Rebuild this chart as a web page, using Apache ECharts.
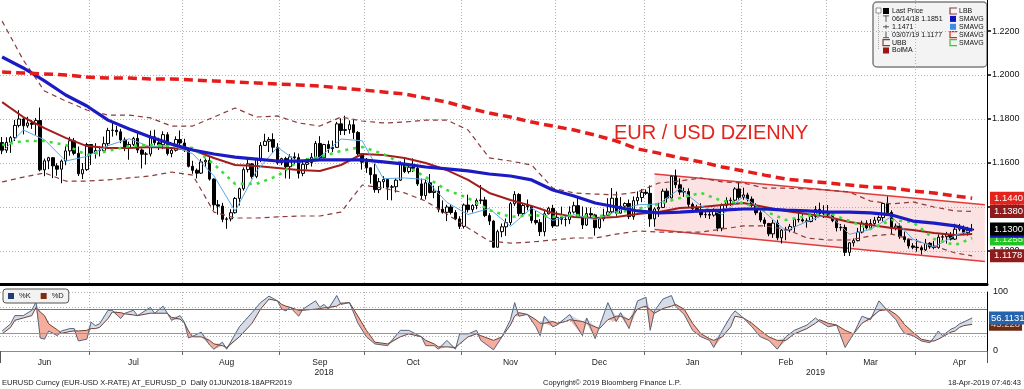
<!DOCTYPE html>
<html><head><meta charset="utf-8">
<script src="https://cdn.jsdelivr.net/npm/echarts@6/dist/echarts.min.js"></script>
<style>html,body{margin:0;padding:0;background:#fff}#c{width:1024px;height:389px}</style>
</head><body><div id="c"></div>
<script>
// ---------- categories: trading days (weekdays) + 3 empty pad days ----------
const firstDay = '2018-06-01', lastDay = '2019-04-18', padDays = 3;
const categories = [];
(function(){
  let d = new Date(firstDay + 'T00:00:00Z'), pad = 0, passed = false;
  while (true) {
    const wd = d.getUTCDay();
    if (wd !== 0 && wd !== 6) {
      const s = d.toISOString().slice(0,10);
      if (passed) { categories.push(s); pad++; if (pad >= padDays) break; }
      else { categories.push(s); if (s === lastDay) passed = true; }
    }
    d.setUTCDate(d.getUTCDate()+1);
  }
})();
const nDays = categories.indexOf(lastDay) + 1;

// ---------- daily candles [open, close, low, high] ----------
const ohlc = [
// Jun 2018
[1.1693,1.1658,1.1640,1.1718],[1.1658,1.1694,1.1646,1.1717],[1.1694,1.1715,1.1646,1.1722],[1.1715,1.1771,1.1700,1.1796],[1.1771,1.1800,1.1762,1.1840],
[1.1800,1.1769,1.1730,1.1805],[1.1769,1.1782,1.1760,1.1810],[1.1782,1.1776,1.1755,1.1796],[1.1776,1.1793,1.1728,1.1805],[1.1793,1.1569,1.1562,1.1852],
[1.1569,1.1610,1.1540,1.1620],[1.1610,1.1624,1.1572,1.1628],[1.1624,1.1587,1.1531,1.1627],[1.1587,1.1572,1.1542,1.1599],[1.1572,1.1609,1.1508,1.1616],
[1.1609,1.1655,1.1590,1.1676],[1.1655,1.1701,1.1633,1.1719],[1.1701,1.1644,1.1635,1.1714],[1.1644,1.1551,1.1541,1.1675],[1.1551,1.1570,1.1527,1.1600],
[1.1570,1.1684,1.1564,1.1692],
// Jul
[1.1684,1.1644,1.1591,1.1686],[1.1644,1.1657,1.1620,1.1690],[1.1657,1.1656,1.1630,1.1675],[1.1656,1.1688,1.1645,1.1720],[1.1688,1.1748,1.1676,1.1760],
[1.1748,1.1749,1.1720,1.1791],[1.1749,1.1742,1.1725,1.1768],[1.1742,1.1705,1.1690,1.1755],[1.1705,1.1669,1.1654,1.1716],[1.1669,1.1684,1.1615,1.1697],
[1.1684,1.1712,1.1677,1.1719],[1.1712,1.1659,1.1645,1.1745],[1.1659,1.1640,1.1575,1.1666],[1.1640,1.1641,1.1593,1.1650],[1.1641,1.1719,1.1630,1.1747],
[1.1719,1.1692,1.1680,1.1751],[1.1692,1.1683,1.1659,1.1715],[1.1683,1.1729,1.1663,1.1744],[1.1729,1.1643,1.1634,1.1740],[1.1643,1.1658,1.1626,1.1668],
[1.1658,1.1707,1.1652,1.1721],[1.1707,1.1691,1.1675,1.1748],
// Aug
[1.1691,1.1659,1.1650,1.1710],[1.1659,1.1585,1.1580,1.1670],[1.1585,1.1567,1.1551,1.1610],[1.1567,1.1554,1.1530,1.1575],[1.1554,1.1605,1.1550,1.1619],
[1.1605,1.1612,1.1584,1.1620],[1.1612,1.1527,1.1520,1.1627],[1.1527,1.1410,1.1387,1.1530],[1.1410,1.1404,1.1365,1.1432],[1.1404,1.1344,1.1331,1.1419],
[1.1344,1.1346,1.1301,1.1354],[1.1346,1.1374,1.1335,1.1390],[1.1374,1.1439,1.1370,1.1445],[1.1439,1.1483,1.1407,1.1488],[1.1483,1.1570,1.1475,1.1580],
[1.1570,1.1596,1.1557,1.1622],[1.1596,1.1539,1.1529,1.1600],[1.1539,1.1621,1.1531,1.1623],[1.1621,1.1680,1.1604,1.1695],[1.1680,1.1699,1.1680,1.1733],
[1.1699,1.1707,1.1650,1.1718],[1.1707,1.1672,1.1646,1.1735],[1.1672,1.1601,1.1592,1.1690],
// Sep
[1.1601,1.1620,1.1590,1.1624],[1.1620,1.1583,1.1530,1.1628],[1.1583,1.1628,1.1528,1.1640],[1.1628,1.1624,1.1594,1.1648],[1.1624,1.1553,1.1530,1.1643],
[1.1553,1.1594,1.1540,1.1612],[1.1594,1.1602,1.1571,1.1622],[1.1602,1.1626,1.1584,1.1645],[1.1626,1.1689,1.1620,1.1700],[1.1689,1.1624,1.1613,1.1722],
[1.1624,1.1684,1.1621,1.1687],[1.1684,1.1665,1.1646,1.1702],[1.1665,1.1671,1.1650,1.1702],[1.1671,1.1778,1.1668,1.1787],[1.1778,1.1748,1.1727,1.1803],
[1.1748,1.1752,1.1727,1.1815],[1.1752,1.1774,1.1733,1.1794],[1.1774,1.1739,1.1709,1.1796],[1.1739,1.1642,1.1633,1.1745],[1.1642,1.1604,1.1570,1.1642],
// Oct
[1.1604,1.1578,1.1555,1.1623],[1.1578,1.1547,1.1506,1.1580],[1.1547,1.1479,1.1465,1.1596],[1.1479,1.1515,1.1463,1.1532],[1.1515,1.1525,1.1486,1.1540],
[1.1525,1.1490,1.1432,1.1527],[1.1490,1.1492,1.1430,1.1500],[1.1492,1.1522,1.1466,1.1530],[1.1522,1.1595,1.1518,1.1609],[1.1595,1.1561,1.1554,1.1620],
[1.1561,1.1581,1.1552,1.1591],[1.1581,1.1576,1.1559,1.1621],[1.1576,1.1505,1.1496,1.1582],[1.1505,1.1452,1.1432,1.1529],[1.1452,1.1510,1.1434,1.1526],
[1.1510,1.1466,1.1462,1.1550],[1.1466,1.1472,1.1440,1.1497],[1.1472,1.1390,1.1376,1.1495],[1.1390,1.1376,1.1370,1.1430],[1.1376,1.1400,1.1336,1.1410],
[1.1400,1.1375,1.1366,1.1412],[1.1375,1.1346,1.1340,1.1386],[1.1346,1.1312,1.1300,1.1358],
// Nov
[1.1312,1.1409,1.1302,1.1416],[1.1409,1.1388,1.1375,1.1456],[1.1388,1.1407,1.1375,1.1412],[1.1407,1.1429,1.1390,1.1439],[1.1429,1.1432,1.1414,1.1500],
[1.1432,1.1361,1.1354,1.1446],[1.1361,1.1336,1.1318,1.1372],[1.1336,1.1217,1.1216,1.1340],[1.1217,1.1288,1.1216,1.1297],[1.1288,1.1310,1.1263,1.1325],
[1.1310,1.1329,1.1269,1.1348],[1.1329,1.1415,1.1318,1.1423],[1.1415,1.1457,1.1405,1.1472],[1.1457,1.1370,1.1358,1.1463],[1.1370,1.1407,1.1362,1.1416],
[1.1407,1.1402,1.1385,1.1434],[1.1402,1.1339,1.1326,1.1405],[1.1339,1.1329,1.1320,1.1382],[1.1329,1.1288,1.1268,1.1345],[1.1288,1.1369,1.1267,1.1387],
[1.1369,1.1394,1.1366,1.1401],[1.1394,1.1314,1.1305,1.1410],
// Dec
[1.1314,1.1353,1.1313,1.1380],[1.1353,1.1344,1.1321,1.1402],[1.1344,1.1343,1.1312,1.1360],[1.1343,1.1377,1.1322,1.1403],[1.1377,1.1406,1.1370,1.1424],
[1.1406,1.1353,1.1350,1.1443],[1.1353,1.1318,1.1300,1.1402],[1.1318,1.1370,1.1314,1.1398],[1.1370,1.1364,1.1345,1.1397],[1.1364,1.1306,1.1270,1.1369],
[1.1306,1.1346,1.1301,1.1353],[1.1346,1.1362,1.1335,1.1392],[1.1362,1.1378,1.1359,1.1440],[1.1378,1.1440,1.1372,1.1486],[1.1440,1.1372,1.1360,1.1470],
[1.1372,1.1404,1.1370,1.1445],[1.1404,1.1416,1.1400,1.1421],[1.1416,1.1356,1.1345,1.1434],[1.1356,1.1429,1.1342,1.1448],[1.1429,1.1443,1.1408,1.1471],
[1.1443,1.1467,1.1422,1.1482],
// Jan 2019
[1.1467,1.1462,1.1455,1.1480],[1.1462,1.1346,1.1310,1.1498],[1.1346,1.1391,1.1310,1.1398],[1.1391,1.1398,1.1355,1.1419],[1.1398,1.1472,1.1395,1.1483],
[1.1472,1.1441,1.1420,1.1485],[1.1441,1.1540,1.1440,1.1542],[1.1540,1.1501,1.1486,1.1570],[1.1501,1.1468,1.1455,1.1530],[1.1468,1.1470,1.1446,1.1488],
[1.1470,1.1412,1.1397,1.1485],[1.1412,1.1393,1.1380,1.1420],[1.1393,1.1387,1.1375,1.1410],[1.1387,1.1365,1.1352,1.1417],[1.1365,1.1366,1.1350,1.1384],
[1.1366,1.1363,1.1345,1.1380],[1.1363,1.1384,1.1356,1.1394],[1.1384,1.1304,1.1290,1.1390],[1.1304,1.1408,1.1290,1.1416],[1.1408,1.1429,1.1395,1.1444],
[1.1429,1.1431,1.1405,1.1443],[1.1431,1.1482,1.1410,1.1490],[1.1482,1.1444,1.1434,1.1514],
// Feb
[1.1444,1.1455,1.1433,1.1488],[1.1455,1.1436,1.1425,1.1465],[1.1436,1.1407,1.1398,1.1448],[1.1407,1.1374,1.1363,1.1417],[1.1374,1.1341,1.1331,1.1384],
[1.1341,1.1325,1.1310,1.1353],[1.1325,1.1278,1.1267,1.1328],[1.1278,1.1327,1.1260,1.1341],[1.1327,1.1260,1.1249,1.1342],[1.1260,1.1295,1.1234,1.1300],
[1.1295,1.1296,1.1249,1.1310],[1.1296,1.1311,1.1285,1.1323],[1.1311,1.1344,1.1287,1.1350],[1.1344,1.1342,1.1330,1.1372],[1.1342,1.1337,1.1330,1.1368],
[1.1337,1.1334,1.1306,1.1349],[1.1334,1.1357,1.1330,1.1368],[1.1357,1.1389,1.1340,1.1405],[1.1389,1.1370,1.1365,1.1420],[1.1370,1.1372,1.1350,1.1408],
// Mar
[1.1372,1.1364,1.1354,1.1409],[1.1364,1.1338,1.1331,1.1374],[1.1338,1.1306,1.1289,1.1343],[1.1306,1.1307,1.1292,1.1323],[1.1307,1.1194,1.1177,1.1320],
[1.1194,1.1237,1.1177,1.1240],[1.1237,1.1247,1.1220,1.1257],[1.1247,1.1286,1.1244,1.1305],[1.1286,1.1327,1.1280,1.1338],[1.1327,1.1305,1.1298,1.1340],
[1.1305,1.1325,1.1297,1.1345],[1.1325,1.1340,1.1319,1.1355],[1.1340,1.1352,1.1327,1.1361],[1.1352,1.1416,1.1334,1.1420],[1.1416,1.1375,1.1360,1.1448],
[1.1375,1.1304,1.1275,1.1385],[1.1304,1.1313,1.1294,1.1325],[1.1313,1.1265,1.1255,1.1325],[1.1265,1.1252,1.1239,1.1288],[1.1252,1.1223,1.1211,1.1257],
[1.1223,1.1217,1.1208,1.1236],
// Apr
[1.1217,1.1215,1.1197,1.1255],[1.1215,1.1205,1.1184,1.1225],[1.1205,1.1235,1.1200,1.1255],[1.1235,1.1219,1.1210,1.1240],[1.1219,1.1216,1.1208,1.1246],
[1.1216,1.1263,1.1210,1.1276],[1.1263,1.1265,1.1249,1.1277],[1.1265,1.1274,1.1234,1.1287],[1.1274,1.1254,1.1248,1.1286],[1.1254,1.1299,1.1250,1.1324],
[1.1299,1.1306,1.1290,1.1323],[1.1306,1.1283,1.1272,1.1316],[1.1283,1.1295,1.1270,1.1310],[1.1295,1.1300,1.1290,1.1323]
];

// ---------- indicator lines, read weekly (each Friday + last day) ----------
const lineDates = categories.filter((d,i) => i < nDays && (new Date(d+'T00:00:00Z').getUTCDay() === 5 || i === nDays-1));
const smaBlue = [1.2082,1.2032,1.1973,1.1909,1.1859,1.1795,1.1755,1.1718,1.1686,1.1659,1.1641,1.1627,1.1618,1.1609,1.1609,1.1614,1.1614,1.1614,1.1605,1.1595,1.1582,1.1573,1.1564,1.1550,1.1541,1.1523,1.1477,1.1450,1.1418,1.1400,1.1382,1.1373,1.1377,1.1382,1.1386,1.1391,1.1391,1.1386,1.1382,1.1377,1.1377,1.1373,1.1364,1.1336,1.1327,1.1314,1.1295];
const bolMA = [1.1877,1.1809,1.1759,1.1714,1.1677,1.1668,1.1668,1.1673,1.1668,1.1659,1.1623,1.1591,1.1586,1.1577,1.1568,1.1564,1.1591,1.1641,1.1636,1.1623,1.1600,1.1568,1.1523,1.1464,1.1432,1.1405,1.1373,1.1355,1.1350,1.1355,1.1368,1.1377,1.1395,1.1400,1.1409,1.1418,1.1400,1.1382,1.1368,1.1355,1.1332,1.1318,1.1305,1.1295,1.1282,1.1273,1.1277];
const sma200 = [1.2014,1.2009,1.2005,1.2000,1.1991,1.1986,1.1986,1.1982,1.1982,1.1977,1.1973,1.1968,1.1964,1.1959,1.1955,1.1950,1.1941,1.1932,1.1923,1.1914,1.1895,1.1877,1.1850,1.1827,1.1809,1.1786,1.1768,1.1750,1.1727,1.1700,1.1664,1.1645,1.1623,1.1605,1.1582,1.1564,1.1545,1.1527,1.1518,1.1509,1.1500,1.1491,1.1486,1.1473,1.1464,1.1450,1.1440];
const upperBB = [1.2245,1.2068,1.1927,1.1882,1.1841,1.1818,1.1818,1.1805,1.1768,1.1768,1.1809,1.1850,1.1809,1.1814,1.1782,1.1768,1.1809,1.1791,1.1782,1.1786,1.1795,1.1795,1.1750,1.1623,1.1609,1.1591,1.1486,1.1464,1.1459,1.1455,1.1468,1.1509,1.1518,1.1532,1.1514,1.1509,1.1486,1.1486,1.1482,1.1477,1.1468,1.1427,1.1414,1.1423,1.1400,1.1382,1.1380];
const lowerBB = [1.1514,1.1536,1.1555,1.1518,1.1518,1.1523,1.1532,1.1541,1.1559,1.1545,1.1377,1.1350,1.1350,1.1355,1.1359,1.1359,1.1377,1.1500,1.1486,1.1464,1.1427,1.1368,1.1305,1.1245,1.1236,1.1241,1.1250,1.1259,1.1259,1.1277,1.1291,1.1286,1.1286,1.1286,1.1300,1.1314,1.1314,1.1300,1.1259,1.1250,1.1250,1.1268,1.1277,1.1250,1.1223,1.1191,1.1178];
const smaGreen = [1.1682,1.1700,1.1700,1.1682,1.1636,1.1655,1.1677,1.1682,1.1677,1.1668,1.1595,1.1505,1.1505,1.1541,1.1609,1.1627,1.1655,1.1673,1.1641,1.1591,1.1536,1.1477,1.1441,1.1386,1.1355,1.1364,1.1355,1.1364,1.1355,1.1373,1.1391,1.1414,1.1441,1.1464,1.1427,1.1418,1.1382,1.1341,1.1359,1.1373,1.1336,1.1300,1.1341,1.1332,1.1255,1.1227,1.1259];
const smaLight = [1.1650,1.1750,1.1706,1.1609,1.1630,1.1679,1.1710,1.1674,1.1681,1.1642,1.1542,1.1381,1.1562,1.1672,1.1602,1.1627,1.1709,1.1701,1.1529,1.1532,1.1525,1.1421,1.1366,1.1393,1.1312,1.1395,1.1339,1.1365,1.1342,1.1380,1.1410,1.1414,1.1484,1.1405,1.1365,1.1448,1.1377,1.1291,1.1334,1.1370,1.1276,1.1298,1.1357,1.1254,1.1218,1.1271,1.1297];

// ---------- trend channel ----------
const channelDates = ['2019-01-03','2019-04-23'];
const channelTop = [1.1550, 1.1410];
const channelBottom = [1.1298, 1.1152];

// ---------- stochastic ----------
const stochDates = [
'2018-06-01','2018-06-05','2018-06-06','2018-06-08','2018-06-12','2018-06-13','2018-06-14','2018-06-15','2018-06-18','2018-06-20','2018-06-21','2018-06-25','2018-06-26','2018-06-27','2018-06-29',
'2018-07-02','2018-07-03','2018-07-04','2018-07-06','2018-07-09','2018-07-11','2018-07-12','2018-07-16','2018-07-17','2018-07-20','2018-07-23','2018-07-25','2018-07-26','2018-07-27','2018-07-31',
'2018-08-01','2018-08-02','2018-08-03','2018-08-07','2018-08-09','2018-08-10','2018-08-14','2018-08-15','2018-08-20','2018-08-23','2018-08-27','2018-08-29','2018-08-31',
'2018-09-03','2018-09-04','2018-09-05','2018-09-07','2018-09-10','2018-09-13','2018-09-14','2018-09-17','2018-09-18','2018-09-20','2018-09-21','2018-09-25','2018-09-27',
'2018-10-01','2018-10-03','2018-10-08','2018-10-11','2018-10-15','2018-10-18','2018-10-19','2018-10-23','2018-10-24','2018-10-26','2018-10-30','2018-10-31',
'2018-11-02','2018-11-06','2018-11-07','2018-11-12','2018-11-14','2018-11-16','2018-11-19','2018-11-20','2018-11-22','2018-11-26','2018-11-27','2018-11-28','2018-11-30',
'2018-12-03','2018-12-05','2018-12-06','2018-12-11','2018-12-12','2018-12-14','2018-12-17','2018-12-19','2018-12-21','2018-12-24','2018-12-26','2018-12-28','2018-12-31',
'2019-01-01','2019-01-02','2019-01-03','2019-01-07','2019-01-09','2019-01-10','2019-01-14','2019-01-16','2019-01-18','2019-01-22','2019-01-23','2019-01-25','2019-01-29','2019-01-30',
'2019-02-01','2019-02-05','2019-02-07','2019-02-11','2019-02-13','2019-02-15','2019-02-19','2019-02-22','2019-02-26','2019-02-27',
'2019-03-01','2019-03-05','2019-03-07','2019-03-11','2019-03-13','2019-03-15','2019-03-19','2019-03-21','2019-03-25','2019-03-26','2019-03-27','2019-03-29',
'2019-04-02','2019-04-04','2019-04-05','2019-04-08','2019-04-09','2019-04-11','2019-04-12','2019-04-15','2019-04-16','2019-04-18'];
const stochK = [
34,46,60,60,69,83,22,20,34,26,34,38,38,17,20,
49,43,46,69,69,55,64,69,60,74,64,76,64,52,60,
49,22,25,32,10,3,15,3,41,65,82,93,85,
71,68,74,59,71,85,74,79,71,94,79,82,47,
24,12,9,35,35,24,9,9,3,18,3,29,
29,35,18,2,24,53,82,59,62,41,26,59,41,
44,56,62,26,56,21,41,82,50,65,38,85,88,
91,35,68,88,94,76,62,35,24,18,6,35,59,68,
56,41,24,18,3,24,35,44,56,50,
41,44,6,29,59,53,85,68,53,40,30,26,
17,14,23,34,26,37,40,46,49,56.1131];
const stochD = [
29,40,52,56,60,74,66,60,46,36,30,33,34,34,35,
38,38,40,55,66,65,63,61,60,64,64,64,64,57,54,
48,34,24,24,18,12,9,6,24,47,71,88,85,
79,76,74,69,69,71,72,73,74,76,81,82,59,
35,15,12,24,29,24,18,12,7,7,6,12,
24,29,26,18,24,44,59,65,62,53,47,47,50,
47,50,53,50,47,41,38,53,59,59,53,71,74,
76,70,64,72,76,79,71,47,29,21,18,24,41,59,
56,47,35,24,18,18,29,38,47,53,
47,44,35,29,47,56,68,71,62,55,45,32,
20,17,17,20,24,32,34,40,43,45.228];
const stochLevels = [70, 30];

// ---------- axis labels / texts ----------
const priceTicks = [1.12, 1.14, 1.16, 1.18, 1.20, 1.22];
const monthLabelDates = ['2018-06-15','2018-07-16','2018-08-15','2018-09-14','2018-10-16','2018-11-16','2018-12-17','2019-01-16','2019-02-15','2019-03-15','2019-04-15'];
const monthNames = ['Jan','Feb','Mar','Apr','May','Jun','Jul','Aug','Sep','Oct','Nov','Dec'];
const yearLabels = {'2018-09-17':'2018','2019-02-26':'2019'};
const yearBoundary = '2019-01-01';
const priceTags = [
  {name:'SMAVG green', value:1.1255, bg:'#22c322', fg:'#d8ffd8'},
  {name:'LBB', value:1.1178, bg:'#8e1c1c', fg:'#ffffff'},
  {name:'SMAVG blue', value:1.1290, bg:'#1616b8', fg:'#ffffff'},
  {name:'Last Price', value:1.1300, bg:'#000000', fg:'#ffffff'},
  {name:'UBB', value:1.1380, bg:'#8e1c1c', fg:'#ffffff'},
  {name:'SMAVG 200', value:1.1440, bg:'#e3231c', fg:'#ffffff'}
];
const stochTags = [
  {value:45.228, bg:'#6d2c12', fg:'#e8c8b8'},
  {value:56.1131, bg:'#2463ad', fg:'#ffffff'}
];
const legendLeft = [
  {icon:'sq', color:'#000000', text:'Last Price'},
  {icon:'hi', color:'#555', text:'06/14/18 1.1851'},
  {icon:'avg', color:'#555', text:'1.1471'},
  {icon:'lo', color:'#555', text:'03/07/19 1.1177'},
  {icon:'br', color:'#8c3b3b', text:'UBB'},
  {icon:'sq', color:'#a01515', text:'BolMA'}
];
const legendRight = [
  {icon:'br', color:'#8c3b3b', text:'LBB'},
  {icon:'sq', color:'#1010c0', text:'SMAVG'},
  {icon:'sq', color:'#3a8ee8', text:'SMAVG'},
  {icon:'br', color:'#e3231c', text:'SMAVG'},
  {icon:'br', color:'#33cc33', text:'SMAVG'}
];

// ---------- build ----------
const FONT = "'Liberation Sans', Arial, sans-serif";
const pairs = (dates, vals) => dates.map((d,i) => [d, vals[i]]);
const monthStart = (i) => i > 0 && i < nDays && categories[i].slice(0,7) !== categories[i-1].slice(0,7);
const dotted = {color:'#b4b4b4', type:[1,2], width:1};
const CLEAR = 'rgba(0,0,0,0)';

const stMin = stochK.map((k,i) => Math.min(k, stochD[i]));
const stPink = stochK.map((k,i) => Math.max(stochD[i]-k, 0));
const stBlue = stochK.map((k,i) => Math.max(k-stochD[i], 0));

function lineS(name, vals, color, width, type, z) {
  return {name, type:'line', xAxisIndex:0, yAxisIndex:0, data:pairs(lineDates, vals), symbol:'none',
    lineStyle:{color, width, type: type || 'solid'}, z: z || 3, silent:true};
}

// legend box graphics
const g = [];
g.push({type:'rect', shape:{x:873,y:2,width:114,height:65,r:4}, style:{fill:'#f3f3f3', stroke:'#7d7d7d', lineWidth:1.5}});
g.push({type:'rect', shape:{x:876,y:8,width:5,height:5}, style:{fill:'#fff', stroke:'#777', lineWidth:0.8}});
g.push({type:'polyline', shape:{points:[[878.5,14],[878.5,50]]}, style:{stroke:'#999', lineWidth:0.8, lineDash:[1,1]}});
function drawIcon(it, x, y) {
  if (it.icon === 'sq') g.push({type:'rect', shape:{x:x, y:y-3, width:6, height:6}, style:{fill:it.color}});
  else if (it.icon === 'hi') { g.push({type:'polyline', shape:{points:[[x,y-3],[x+6,y-3]]}, style:{stroke:it.color, lineWidth:1}}); g.push({type:'polyline', shape:{points:[[x+3,y-3],[x+3,y+3]]}, style:{stroke:it.color, lineWidth:1}}); }
  else if (it.icon === 'lo') { g.push({type:'polyline', shape:{points:[[x,y+3],[x+6,y+3]]}, style:{stroke:it.color, lineWidth:1}}); g.push({type:'polyline', shape:{points:[[x+3,y-3],[x+3,y+3]]}, style:{stroke:it.color, lineWidth:1}}); }
  else if (it.icon === 'avg') { g.push({type:'polyline', shape:{points:[[x,y],[x+6,y]]}, style:{stroke:it.color, lineWidth:1}}); g.push({type:'polyline', shape:{points:[[x+3,y-2],[x+3,y+2]]}, style:{stroke:it.color, lineWidth:1}}); }
  else if (it.icon === 'br') g.push({type:'polyline', shape:{points:[[x+7,y-3],[x,y-3],[x,y+3],[x+7,y+3]]}, style:{stroke:it.color, lineWidth:1.2, fill:null}});
}
legendLeft.forEach((it,i) => { const y = 11 + i*7.9; drawIcon(it, 883, y);
  g.push({type:'text', x:892, y:y, style:{text:it.text, fill:'#111', font:'7px '+FONT, verticalAlign:'middle'}}); });
legendRight.forEach((it,i) => { const y = 11 + i*7.9; drawIcon(it, 950, y);
  g.push({type:'text', x:959, y:y, style:{text:it.text, fill:'#111', font:'7px '+FONT, verticalAlign:'middle'}}); });

function tagLines(tags, fmt, pad, dist) {
  return {silent:true, symbol:['none','none'], animation:false, precision:6, lineStyle:{color:CLEAR, width:0},
    data:tags.map(t => ({yAxis:t.value, lineStyle:{color:CLEAR, width:0},
      label:{show:true, position:'end', distance:dist, formatter:fmt, backgroundColor:t.bg, color:t.fg, opacity:1,
        fontSize:9.5, fontFamily:FONT, padding:pad, lineHeight:10}}))};
}

const option = {
  animation:false,
  backgroundColor:'#ffffff',
  textStyle:{fontFamily:FONT},
  title:[
    {text:'EUR / USD DZIENNY', left:614, top:123, padding:0, textStyle:{color:'#e3231c', fontSize:20, fontWeight:'normal', fontFamily:FONT}},
    {text:'EURUSD Curncy (EUR-USD X-RATE) AT_EURUSD_D  Daily 01JUN2018-18APR2019', left:2, top:379, padding:0, textStyle:{color:'#222', fontSize:7.5, fontWeight:'normal', fontFamily:FONT}},
    {text:'Copyright\u00a9 2019 Bloomberg Finance L.P.', left:543, top:379, padding:0, textStyle:{color:'#222', fontSize:7.5, fontWeight:'normal', fontFamily:FONT}},
    {text:'18-Apr-2019 07:46:43', right:3, top:379, padding:0, textStyle:{color:'#222', fontSize:7.5, fontWeight:'normal', fontFamily:FONT}}
  ],
  legend:{show:true, left:3, top:289, selectedMode:false, orient:'horizontal', itemWidth:6, itemHeight:6, itemGap:10,
    padding:[3,5], backgroundColor:'#f2f2f2', borderColor:'#555', borderWidth:1, borderRadius:3,
    textStyle:{fontSize:7.5, color:'#222', fontFamily:FONT},
    data:[{name:'%K', icon:'rect', itemStyle:{color:'#1f3f73'}}, {name:'%D', icon:'rect', itemStyle:{color:'#7b2f10'}}]},
  grid:[
    {left:-3, right:37, top:0, height:284},
    {left:-3, right:37, top:292, height:59}
  ],
  xAxis:[
    {gridIndex:0, type:'category', data:categories, boundaryGap:true,
     axisLine:{show:true, onZero:false, lineStyle:{color:'#000', width:3}}, axisTick:{show:false}, axisLabel:{show:false},
     splitLine:{show:true, interval:monthStart, lineStyle:dotted}},
    {gridIndex:1, type:'category', data:categories, boundaryGap:true,
     axisLine:{show:true, onZero:false, lineStyle:{color:'#8a8a8a', width:1}},
     axisTick:{show:true, interval:monthStart, length:4, lineStyle:{color:'#666'}},
     axisLabel:{show:true, interval:(i,v) => monthLabelDates.indexOf(v) >= 0, formatter:v => monthNames[+v.slice(5,7)-1], fontSize:8.5, color:'#222', margin:7, fontFamily:FONT},
     splitLine:{show:true, interval:monthStart, lineStyle:dotted}},
    {gridIndex:1, type:'category', data:categories, boundaryGap:true, position:'bottom', offset:14,
     axisLine:{show:false}, axisTick:{show:true, interval:(i,v) => v === yearBoundary, length:12, lineStyle:{color:'#555'}},
     axisLabel:{show:true, interval:(i,v) => v in yearLabels, formatter:v => yearLabels[v] || '', fontSize:8.5, color:'#222', margin:3, fontFamily:FONT},
     splitLine:{show:false}}
  ],
  yAxis:[
    {gridIndex:0, type:'value', position:'right', min:1.105, max:1.2341,
     axisLine:{show:true, lineStyle:{color:'#000', width:1}},
     axisTick:{show:true, customValues:priceTicks, length:4, lineStyle:{color:'#000', width:1.5}},
     axisLabel:{show:true, customValues:priceTicks, formatter:v => v.toFixed(4), fontSize:9, color:'#111', margin:5, fontFamily:FONT},
     splitLine:{show:true, lineStyle:dotted}},
    {gridIndex:1, type:'value', position:'right', min:0, max:100, interval:25,
     axisLine:{show:true, lineStyle:{color:'#000', width:1}},
     axisTick:{show:false},
     axisLabel:{show:true, formatter:v => (v === 0 || v === 100) ? String(v) : '', fontSize:9, color:'#111', margin:6, fontFamily:FONT},
     splitLine:{show:true, lineStyle:dotted}}
  ],
  graphic:{elements:g},
  series:[
    {name:'chanLow', type:'line', xAxisIndex:0, yAxisIndex:0, stack:'chan', data:pairs(channelDates, channelBottom), symbol:'none',
     lineStyle:{color:'#e23b3b', width:1.5}, z:1, silent:true},
    {name:'chanBand', type:'line', xAxisIndex:0, yAxisIndex:0, stack:'chan', data:pairs(channelDates, channelTop.map((t,i) => t - channelBottom[i])), symbol:'none',
     lineStyle:{color:'#e23b3b', width:1.5}, areaStyle:{color:'rgba(238,105,105,0.27)'}, z:1, silent:true},
    {name:'EURUSD', type:'candlestick', xAxisIndex:0, yAxisIndex:0, data:ohlc, barWidth:3, z:2, silent:true,
     itemStyle:{color:'#ffffff', color0:'#000000', borderColor:'#000000', borderColor0:'#000000', borderColorDoji:'#000000', borderWidth:1}},
    lineS('UBB', upperBB, '#8c3b3b', 1.2, [5,4], 3),
    lineS('LBB', lowerBB, '#8c3b3b', 1.2, [5,4], 3),
    lineS('BolMA', bolMA, '#a31d1d', 2, 'solid', 3),
    lineS('SMAVG light', smaLight, '#5aa9e6', 1, 'solid', 3),
    lineS('SMAVG green', smaGreen, '#3ddc3d', 2.6, [3,5], 4),
    lineS('SMAVG blue', smaBlue, '#1b1bc4', 3.2, 'solid', 4),
    lineS('SMAVG 200', sma200, '#e51c1c', 3.5, [9,5], 4),
    {name:'tags', type:'line', xAxisIndex:0, yAxisIndex:0, data:[[lastDay, ohlc[ohlc.length-1][1]]], symbol:'none', lineStyle:{color:CLEAR, width:0}, z:6, silent:true,
     markLine:tagLines(priceTags, p => Number(p.value).toFixed(4), [2,4,1,4], 3)},
    // stochastic
    {name:'stBase', type:'line', xAxisIndex:1, yAxisIndex:1, stack:'st', data:pairs(stochDates, stMin), symbol:'none', lineStyle:{color:CLEAR, width:0}, z:1, silent:true},
    {name:'stPink', type:'line', xAxisIndex:1, yAxisIndex:1, stack:'st', data:pairs(stochDates, stPink), symbol:'none', lineStyle:{color:CLEAR, width:0}, areaStyle:{color:'#f3a08d', opacity:0.85}, z:1, silent:true},
    {name:'stBlue', type:'line', xAxisIndex:1, yAxisIndex:1, stack:'st', data:pairs(stochDates, stBlue), symbol:'none', lineStyle:{color:CLEAR, width:0}, areaStyle:{color:'#d3dae6', opacity:0.95}, z:1, silent:true},
    {name:'%D', type:'line', xAxisIndex:1, yAxisIndex:1, data:pairs(stochDates, stochD), symbol:'none', lineStyle:{color:'#6e4234', width:1}, z:3, silent:true,
     markLine:{silent:true, symbol:['none','none'], label:{show:false},
       data:[{yAxis:stochLevels[0], lineStyle:{color:'#c65454', width:1, type:'solid'}}, {yAxis:stochLevels[1], lineStyle:{color:'#58c058', width:1, type:'solid'}}]}},
    {name:'%K', type:'line', xAxisIndex:1, yAxisIndex:1, data:pairs(stochDates, stochK), symbol:'none', lineStyle:{color:'#55647c', width:1}, z:3, silent:true},
    {name:'stTags', type:'line', xAxisIndex:1, yAxisIndex:1, data:[[lastDay, stochK[stochK.length-1]]], symbol:'none', lineStyle:{color:CLEAR, width:0}, z:6, silent:true,
     markLine:tagLines(stochTags, p => String(p.value), [2,2,1,2], 2)}
  ]
};
const chart = echarts.init(document.getElementById('c'), null, {renderer:'canvas'});
chart.setOption(option);
</script>
</body></html>
